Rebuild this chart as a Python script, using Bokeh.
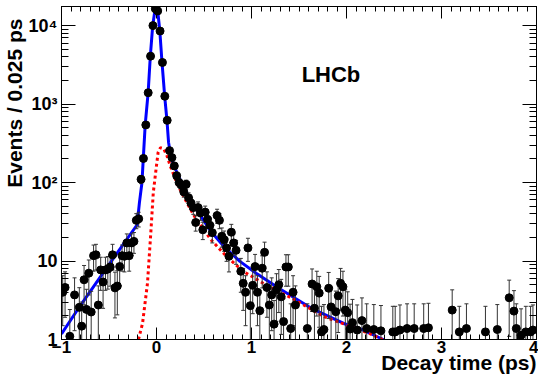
import math
import numpy as np
from bokeh.plotting import figure
from bokeh.models import (Range1d, LinearAxis, FixedTicker, Label, CustomLabelingPolicy,
                          Title, CustomJSTickFormatter)
from bokeh.embed import file_html
from bokeh.resources import INLINE

# ---------------- data ----------------
BIN_WIDTH = 0.025          # ps per bin
T_MIN = -1.0

bin_index = [0, 1, 3, 5, 7, 8, 9, 10, 11, 12, 13, 14, 15, 16, 17, 18, 19, 20, 21, 22,
             23, 24, 25, 26, 27, 28, 29, 30, 31, 32, 33, 34, 35, 36, 37, 38, 39, 40, 41, 42,
             43, 44, 45, 46, 47, 48, 49, 50, 51, 52, 53, 54, 55, 56, 57, 58, 59, 60, 61, 62,
             63, 65, 66, 67, 68, 69, 70, 71, 72, 73, 75, 76, 77, 78, 79, 80, 81, 82, 83, 84,
             85, 86, 87, 88, 89, 90, 91, 92, 93, 94, 95, 96, 97, 98, 103, 105, 106, 107, 108, 109,
             110, 112, 113, 115, 116, 117, 118, 119, 120, 121, 122, 124, 126, 128, 131, 134, 139, 140, 142, 145,
             148, 152, 154, 164, 167, 170, 178, 183, 188, 190, 191, 193, 195, 197, 198]
counts = [4.0, 4.6, 1.1, 3.7, 2.57, 1.48, 5.77, 2.42, 7.0, 2.24, 11.7, 12.0, 2.75, 7.7, 5.4, 7.7, 7.9, 8.4, 12.0, 4.55,
          4.8, 8.5, 11.7, 11.5, 17, 11.7, 17, 17.8, 33, 34.5, 110, 203, 543, 1396, 4080, 10000, 16400, 15400, 8530, 3390,
          1260, 620, 255, 208, 163, 122, 100, 92.5, 76, 95, 64, 55, 48, 31, 48, 41, 25, 42, 34, 28.5,
          23, 38, 33, 20.7, 18.7, 14.7, 11.5, 23.3, 17, 13.7, 7.4, 5.2, 4.0, 14.7, 2.7, 4.9, 8.5, 4.0, 2.33, 8.1,
          12.9, 4.6, 2.75, 3.7, 1.57, 4.3, 5.0, 3.5, 1.69, 8.4, 8.4, 1.38, 4.0, 2.75, 1.38, 5.1, 2.5, 4.7, 3.9, 1.25,
          1.34, 4.5, 2.6, 2.26, 3.6, 5.2, 4.7, 2.37, 2.2, 1.36, 1.64, 1.32, 1.74, 1.38, 1.34, 1.29, 1.25, 1.25, 1.32, 1.38,
          1.38, 1.38, 1.41, 2.37, 1.25, 1.38, 1.25, 1.34, 3.4, 2.3, 1.38, 1.13, 1.25, 1.25, 1.32]

# total fit (blue)
fit_t = [-1.0, -0.8, -0.6, -0.4, -0.204, -0.18, -0.153, -0.139, -0.119, -0.088, -0.065, -0.040, -0.008,
         0.014, 0.035, 0.058, 0.086, 0.110, 0.127, 0.144, 0.178, 0.230, 0.298, 0.366, 0.468, 0.571,
         0.708, 0.878, 1.049, 1.288, 1.630, 1.971, 2.176, 2.364, 2.40]
fit_v = [1.18, 2.73, 6.05, 13.4, 29, 55, 100, 203, 543, 1396, 4080, 10000, 18500,
         15000, 8530, 3390, 1260, 620, 325, 242, 171, 122, 82, 58, 37, 24,
         15.4, 9.9, 7.0, 4.5, 2.5, 1.6, 1.32, 1.03, 0.98]

# component (red dotted)
comp_t = [-0.19, -0.147, -0.095, -0.060, -0.034, -0.009, 0.017, 0.042, 0.076, 0.110, 0.144, 0.22,
          0.332, 0.401, 0.571, 0.742, 0.913, 1.185, 1.425, 1.766, 2.245, 2.40]
comp_v = [1.0, 1.6, 5.2, 22.8, 74, 134, 242, 278, 270, 220, 164, 95,
          52, 37, 18.8, 11.3, 7.4, 4.7, 3.36, 1.95, 1.19, 0.97]

x_ticks = [-1, 0, 1, 2, 3, 4]
y_ticks = [1, 10, 100, 1000, 10000]
y_tick_labels = {1: "1", 10: "10", 100: "10²", 1000: "10³", 10000: "10⁴"}

# ---------------- derived ----------------
t_centers = [T_MIN + BIN_WIDTH * (i + 0.5) for i in bin_index]
v = np.array(counts)
err = 1.25 * np.sqrt(v)
hi = v + err
lo = np.maximum(v - err, 0.5)
lo_cap_t = [t for t, l in zip(t_centers, lo) if l > 1.0]
lo_cap_v = [l for l in lo if l > 1.0]

FONT = "Liberation Sans"
Y_TOP = 17520

p = figure(width=538, height=375, output_backend="svg", toolbar_location=None,
           x_range=Range1d(-1, 4), y_range=Range1d(1, Y_TOP), y_axis_type="log",
           min_border_left=52, min_border_right=2, min_border_top=6, min_border_bottom=36)
p.grid.visible = False
p.outline_line_color = "black"
p.outline_line_width = 1
p.background_fill_color = "white"
p.border_fill_color = "white"

x_minor = [round(-1 + 0.1 * k, 3) for k in range(51)]
y_minor = [m * 10 ** e for e in range(0, 5) for m in range(2, 10) if m * 10 ** e < Y_TOP]


def style_common(ax, size):
    ax.major_tick_out = 0
    ax.minor_tick_out = 0
    ax.axis_line_color = "black"
    ax.major_tick_line_color = "black"
    ax.minor_tick_line_color = "black"
    ax.major_label_text_font = FONT
    ax.major_label_text_font_style = "bold"
    ax.major_label_text_color = "black"
    ax.major_label_text_font_size = size


def hide_labels(ax):
    ax.major_label_standoff = 0
    ax.major_label_text_font_size = "1px"
    ax.formatter = CustomJSTickFormatter(code="return ''")
    ax.major_label_policy = CustomLabelingPolicy(code="return new Set()")


def style_x(ax, labels=True):
    ax.ticker = FixedTicker(ticks=x_ticks, minor_ticks=x_minor)
    style_common(ax, "17px")
    ax.major_tick_in = 12
    ax.minor_tick_in = 5
    if labels:
        ax.major_label_standoff = 1
    else:
        hide_labels(ax)


def style_y(ax, labels=True):
    ax.ticker = FixedTicker(ticks=y_ticks, minor_ticks=y_minor)
    style_common(ax, "18px")
    ax.major_tick_in = 14
    ax.minor_tick_in = 7
    if labels:
        ax.major_label_standoff = 4
        ax.major_label_overrides = {float(k): s for k, s in y_tick_labels.items()}
    else:
        hide_labels(ax)


style_x(p.xaxis[0])
style_y(p.yaxis[0])
top_ax = LinearAxis()
style_x(top_ax, labels=False)
p.add_layout(top_ax, "above")
right_ax = LinearAxis()
style_y(right_ax, labels=False)
p.add_layout(right_ax, "right")

# axis titles (outside the frame)
p.add_layout(Title(text="Decay time (ps)", align="right", text_font=FONT, text_font_style="bold",
                   text_font_size="21px", text_color="black", standoff=-13), "below")
p.add_layout(Title(text="Events / 0.025 ps", align="right", text_font=FONT, text_font_style="bold",
                   text_font_size="21px", text_color="black", standoff=0, offset=12), "left")

# curves
p.line(fit_t, fit_v, line_color="#0000ff", line_width=3)
p.line(comp_t, comp_v, line_color="#ff0000", line_width=3, line_dash="3 3")

# data with error bars
p.segment(x0=t_centers, y0=lo, x1=t_centers, y1=hi, line_color="#333333", line_width=1)
p.scatter(t_centers, hi, marker="dash", size=4, line_color="#333333", line_width=1)
p.scatter(lo_cap_t, lo_cap_v, marker="dash", size=4, line_color="#333333", line_width=1)
p.scatter(t_centers, counts, size=8, fill_color="black", line_color="black")

# LHCb tag
p.add_layout(Label(x=1.528, y=2400, text="LHCb", text_font=FONT, text_font_style="bold",
                   text_font_size="22px", text_align="left", text_baseline="alphabetic",
                   text_color="black"))

open("out.html", "w").write(file_html(p, INLINE))
